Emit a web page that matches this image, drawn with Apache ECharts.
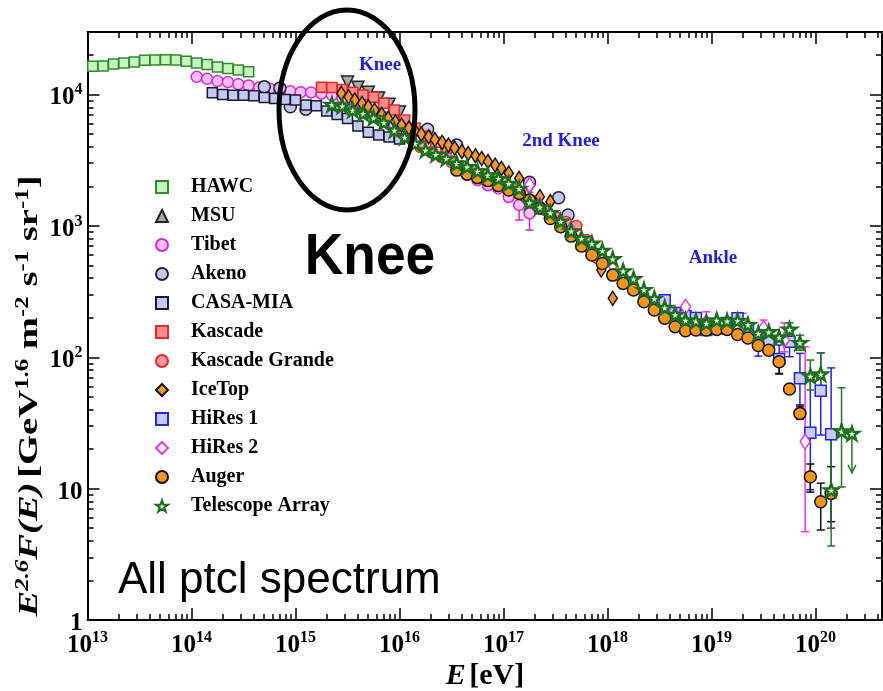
<!DOCTYPE html>
<html>
<head>
<meta charset="utf-8">
<script src="https://cdn.jsdelivr.net/npm/echarts@6/dist/echarts.min.js"></script>
<style>
  html, body { margin: 0; padding: 0; background: #ffffff; }
  #chart { width: 883px; height: 691px; }
</style>
</head>
<body>
<div id="chart"></div>
<script>
// Energies are log10(E / eV); fluxes are E^2.6 F(E) in GeV^1.6 m^-2 s^-1 sr^-1.
const hawcLgE = [13.05, 13.15, 13.25, 13.35, 13.45, 13.55, 13.65, 13.75, 13.85, 13.95, 14.05, 14.15, 14.25, 14.35, 14.45, 14.55];
const hawcFlux = [16400, 16500, 17100, 17400, 17700, 18200, 18300, 18400, 18300, 17900, 17400, 16900, 16200, 15800, 15400, 14900];

const msuLgE = [15.5, 15.6, 15.7, 15.8, 15.9, 16.0];
const msuFlux = [12430, 11380, 10430, 9390, 8450, 7350];

const tibetLgE = [14.05, 14.15, 14.25, 14.35, 14.45, 14.55, 14.65, 14.75, 14.85, 14.95, 15.05, 15.15, 15.25, 15.35, 15.45, 15.55, 15.65,
  15.75, 15.85, 15.95, 16.05, 16.15, 16.25, 16.35, 16.45, 16.55, 16.65, 16.75, 16.85, 16.95, 17.05, 17.15, 17.25];
const tibetFlux = [13630, 13170, 12650, 12430, 12000, 11730, 11290, 11090, 10900, 10610, 10430, 10380, 10160, 9900, 9390, 8760, 8160,
  7480, 6730, 5950, 5270, 4660, 4120, 3710, 3340, 2850, 2440, 2230, 2040, 1930, 1660, 1440, 1245];
const tibetErr = [[17.15, 1107, 1870], [17.25, 929, 1660]];

const akenoLgE = [14.7, 14.85, 14.95, 15.1, 16.27, 16.55, 17.25, 17.53, 17.62];
const akenoFlux = [11440, 11190, 8060, 7740, 5450, 4120, 2150, 1640, 1210];

const casaLgE = [14.2, 14.3, 14.4, 14.5, 14.6, 14.7, 14.8, 14.9, 15.0, 15.1, 15.2, 15.3, 15.4, 15.5, 15.6, 15.7, 15.8, 15.9, 16.0];
const casaFlux = [10300, 10000, 9890, 9890, 9780, 9500, 9340, 9150, 9070, 8310, 8210, 7480, 7060, 6580, 5750, 5170, 4910, 4740, 4580];

const kascadeLgE = [15.25, 15.35, 15.45, 15.55, 15.65, 15.75, 15.85, 15.95, 16.05, 16.15, 16.25, 16.35, 16.45];
const kascadeFlux = [11380, 11320, 10940, 10430, 9900, 9550, 8600, 7610, 6390, 5550, 4830, 4340, 3910];

const grandeLgE = [16.2, 16.3, 16.4, 16.5, 16.6, 16.7, 16.8, 16.9, 17.0, 17.1, 17.2, 17.3, 17.4, 17.5, 17.6, 17.7, 17.8, 17.9];
const grandeFlux = [3980, 3640, 3340, 3060, 2850, 2660, 2480, 2310, 2120, 1910, 1750, 1520, 1320, 1170, 1070, 1000, 780, 570];

const icetopLgE = [15.44, 15.51, 15.57, 15.64, 15.70, 15.76, 15.83, 15.89, 15.96, 16.02, 16.09, 16.15, 16.21, 16.28, 16.34, 16.41,
  16.47, 16.53, 16.60, 16.66, 16.73, 16.79, 16.85, 16.92, 16.98, 17.05, 17.15, 17.25, 17.35, 17.45, 17.54, 17.64, 17.74, 17.83, 17.94, 18.05];
const icetopFlux = [10200, 9610, 9070, 8560, 8060, 7610, 7060, 6580, 6200, 5850, 5550, 5270, 4990, 4770, 4540, 4320,
  4120, 3910, 3690, 3550, 3420, 3260, 3090, 2900, 2740, 2520, 2300, 2010, 1670, 1530, 1070, 920, 780, 650, 461, 281];

const hires1LgE = [18.55, 18.65, 18.75, 18.85, 18.95, 19.05, 19.15, 19.25, 19.35, 19.45, 19.55, 19.65, 19.75, 19.85, 19.95, 20.05, 20.15];
const hires1Flux = [272, 217, 206, 199, 161, 173, 182, 198, 161, 140, 131, 96.9, 131, 69.1, 26.6, 55.6, 25.9];
const hires1Err = [[19.45, 102, 128], [19.65, 75.4, 124], [19.75, 101, 164], [19.85, 42, 107], [19.95, 9.8, 72], [20.05, 25.6, 108], [20.15, 5.0, 83]];

const hires2LgE = [17.25, 17.35, 17.45, 17.55, 17.65, 17.75, 17.85, 17.95, 18.05, 18.15, 18.25, 18.35, 18.45, 18.55, 18.65, 18.75,
  18.95, 19.1, 19.3, 19.5, 19.7, 19.9];
const hires2Flux = [2040, 1440, 1230, 1070, 930, 780, 654, 569, 503, 415, 354, 303, 263, 229, 210, 242,
  185, 173, 176, 167, 135, 22.8];
const hires2Err = [[17.25, 1800, 2300], [18.95, 156, 222], [19.1, 150, 198], [19.3, 142, 216], [19.5, 142, 192], [19.7, 110, 183], [19.9, 4.7, 120]];

const augerLgE = [16.55, 16.65, 16.75, 16.85, 16.95, 17.05, 17.15, 17.25, 17.35, 17.45, 17.55, 17.65, 17.75, 17.85, 17.95, 18.05,
  18.15, 18.25, 18.35, 18.45, 18.55, 18.65, 18.75, 18.85, 18.95, 19.05, 19.15, 19.25, 19.35, 19.45, 19.55, 19.65, 19.75, 19.85,
  19.95, 20.05, 20.15];
const augerFlux = [2659, 2480, 2331, 2212, 2026, 1873, 1768, 1572, 1366, 1140, 984, 836, 702, 600, 518, 422,
  365, 325, 265, 229, 198, 171, 159, 161, 161, 163, 163, 149, 140, 123, 113, 92.4, 57.3, 37.4,
  12.3, 7.95, 9.2];
const augerErr = [[19.65, 74.5, 101], [19.85, 33.7, 43.3], [19.95, 9.4, 15.4], [20.05, 4.84, 11.0], [20.15, 5.6, 14.7]];

const taLgE = [15.35, 15.45, 15.55, 15.65, 15.75, 15.85, 15.95, 16.05, 16.15, 16.25, 16.35, 16.45, 16.55, 16.65, 16.75, 16.85,
  16.95, 17.05, 17.15, 17.25, 17.35, 17.45, 17.55, 17.65, 17.75, 17.85, 17.95, 18.05, 18.15, 18.25, 18.35, 18.45, 18.55, 18.65,
  18.75, 18.85, 18.95, 19.05, 19.15, 19.25, 19.35, 19.45, 19.55, 19.65, 19.75, 19.85, 19.95, 20.05, 20.15, 20.25, 20.35];
const taFlux = [8410, 8200, 7610, 7180, 6650, 6135, 5360, 4740, 4246, 3775, 3500, 3263, 2991, 2817, 2612, 2436,
  2299, 2106, 1929, 1504, 1390, 1260, 1084, 916, 803, 736, 649, 561, 454, 396, 327, 280, 239, 211,
  192, 189, 182, 192, 189, 190, 177, 152, 156, 142, 163, 129, 71.9, 74.5, 9.76, 27.4, 26.3];
const taErr = [[19.75, 143, 183], [19.85, 113, 147], [19.95, 56.3, 95.2], [20.05, 53.1, 108], [20.15, 3.66, 27.1], [20.25, 10.3, 58.6]];
const taUpperLimit = [[20.35, 26.3, 13.2]];

// Axis ranges (log10 units) and tick positions
const xMin = 13, xMax = 20.639;
const yMin = 0, yMax = 4.476;
const xMajor = [13, 14, 15, 16, 17, 18, 19, 20];
const yMajor = [0, 1, 2, 3, 4];

function minorTicks(lo, hi) {
  const out = [];
  for (let n = Math.floor(lo); n <= Math.ceil(hi); n++) {
    for (let k = 2; k <= 9; k++) {
      const v = n + Math.log10(k);
      if (v > lo && v < hi) out.push(v);
    }
  }
  return out;
}
const xMinor = minorTicks(xMin, xMax);
const yMinor = minorTicks(yMin, yMax);

const SERIF = '"Liberation Serif", "Times New Roman", serif';
const SANS = '"Liberation Sans", Arial, sans-serif';
const labelRich = {
  m: { fontFamily: SERIF, fontWeight: 'bold', fontSize: 25, lineHeight: 32, color: '#000' },
  s: { fontFamily: SERIF, fontWeight: 'bold', fontSize: 16, lineHeight: 16, verticalAlign: 'top', color: '#000' }
};

const STAR = 'path://M0,-100L22.45,-30.9L95.1,-30.9L36.3,11.8L58.8,80.9L0,38.2L-58.8,80.9L-36.3,11.8L-95.1,-30.9L-22.45,-30.9Z';

function pairs(lgE, flux) {
  return lgE.map((e, i) => [e, Math.log10(flux[i])]);
}

function axisPair(kind, position, major, minor, lo, hi, withLabels) {
  const common = { type: 'value', min: lo, max: hi, position: position, splitLine: { show: false } };
  const majorAxis = Object.assign({}, common, {
    axisLine: { show: true, onZero: false, lineStyle: { color: '#000', width: 2 } },
    axisTick: { show: true, inside: true, length: 12, customValues: major, lineStyle: { color: '#000', width: 1.5 } },
    axisLabel: withLabels ? {
      show: true, customValues: major, margin: kind === 'x' ? 10 : 5,
      padding: kind === 'y' ? [7, 0, 0, 0] : 0,
      formatter: function (v) {
        if (kind === 'y' && v === 0) return '{m|1}';
        if (kind === 'y' && v === 1) return '{m|10}';
        return '{m|10}{s|' + v + '}';
      },
      rich: labelRich
    } : { show: false }
  });
  const minorAxis = Object.assign({}, common, {
    axisLine: { show: false, onZero: false },
    axisTick: { show: true, inside: true, length: 6, customValues: minor, lineStyle: { color: '#000', width: 1.5 } },
    axisLabel: { show: false }
  });
  return [majorAxis, minorAxis];
}

function errorBarSeries(rows, color) {
  return {
    type: 'custom',
    name: 'err-' + color,
    xAxisIndex: 0, yAxisIndex: 0,
    silent: true,
    data: rows.map(r => [r[0], Math.log10(r[1]), Math.log10(r[2])]),
    encode: { x: 0, y: [1, 2] },
    renderItem: function (params, api) {
      const a = api.coord([api.value(0), api.value(1)]);
      const b = api.coord([api.value(0), api.value(2)]);
      const w = 4;
      const st = { stroke: color, lineWidth: 1.5 };
      return {
        type: 'group',
        children: [
          { type: 'line', shape: { x1: a[0], y1: a[1], x2: b[0], y2: b[1] }, style: st },
          { type: 'line', shape: { x1: a[0] - w, y1: a[1], x2: a[0] + w, y2: a[1] }, style: st },
          { type: 'line', shape: { x1: b[0] - w, y1: b[1], x2: b[0] + w, y2: b[1] }, style: st }
        ]
      };
    }
  };
}

function upperLimitSeries(rows, color) {
  return {
    type: 'custom',
    name: 'limit-' + color,
    xAxisIndex: 0, yAxisIndex: 0,
    silent: true,
    data: rows.map(r => [r[0], Math.log10(r[1]), Math.log10(r[2])]),
    encode: { x: 0, y: [1, 2] },
    renderItem: function (params, api) {
      const a = api.coord([api.value(0), api.value(1)]);
      const b = api.coord([api.value(0), api.value(2)]);
      const st = { stroke: color, lineWidth: 1.5, fill: 'none' };
      return {
        type: 'group',
        children: [
          { type: 'line', shape: { x1: a[0], y1: a[1], x2: b[0], y2: b[1] }, style: st },
          { type: 'polyline', shape: { points: [[b[0] - 4, b[1] - 8], [b[0], b[1]], [b[0] + 4, b[1] - 8]] }, style: st }
        ]
      };
    }
  };
}

function scatter(name, lgE, flux, symbol, size, fill, border, extra) {
  return Object.assign({
    type: 'scatter',
    name: name,
    xAxisIndex: 0, yAxisIndex: 0,
    symbol: symbol,
    symbolSize: size,
    symbolKeepAspect: true,
    itemStyle: { color: fill, borderColor: border, borderWidth: 1.5, opacity: 1 },
    emphasis: { disabled: true },
    data: pairs(lgE, flux)
  }, extra || {});
}

const legendNames = ['HAWC', 'MSU', 'Tibet', 'Akeno', 'CASA-MIA', 'Kascade', 'Kascade Grande', 'IceTop', 'HiRes 1', 'HiRes 2', 'Auger', 'Telescope Array'];

const xAxes = axisPair('x', 'bottom', xMajor, xMinor, xMin, xMax, true).concat(axisPair('x', 'top', xMajor, xMinor, xMin, xMax, false));
const yAxes = axisPair('y', 'left', yMajor, yMinor, yMin, yMax, true).concat(axisPair('y', 'right', yMajor, yMinor, yMin, yMax, false));

const option = {
  animation: false,
  backgroundColor: '#ffffff',
  grid: { left: 87.5, right: 1, top: 32, bottom: 71, containLabel: false },
  xAxis: xAxes,
  yAxis: yAxes,
  legend: {
    orient: 'vertical',
    left: 150,
    top: 172,
    itemWidth: 12,
    itemHeight: 12,
    itemGap: 9,
    selectedMode: false,
    data: legendNames,
    textStyle: { fontFamily: SERIF, fontWeight: 'bold', fontSize: 20, lineHeight: 20, color: '#000', padding: [0, 0, 0, 18] }
  },
  series: [
    errorBarSeries(tibetErr, '#dd22dd'),
    errorBarSeries(hires1Err, '#2222ee'),
    errorBarSeries(hires2Err, '#ee33ee'),
    errorBarSeries(augerErr, '#111111'),
    errorBarSeries(taErr, '#1e7b1e'),
    upperLimitSeries(taUpperLimit, '#1e7b1e'),
    scatter('HAWC', hawcLgE, hawcFlux, 'rect', 10, '#c6f5c0', '#2e8b2e'),
    scatter('MSU', msuLgE, msuFlux, 'triangle', 12, '#a8a8a8', '#222222', { symbolRotate: 180 }),
    scatter('Tibet', tibetLgE, tibetFlux, 'circle', 11, '#ffc0ff', '#dd22dd'),
    scatter('Akeno', akenoLgE, akenoFlux, 'circle', 12, '#c4c8f0', '#222233'),
    scatter('CASA-MIA', casaLgE, casaFlux, 'rect', 10, '#c4c8f4', '#1a1a2e'),
    scatter('Kascade', kascadeLgE, kascadeFlux, 'rect', 10, '#ff8c8c', '#e8282d'),
    scatter('Kascade Grande', grandeLgE, grandeFlux, 'circle', 11, '#ff9a9a', '#e8282d'),
    scatter('IceTop', icetopLgE, icetopFlux, 'diamond', [9, 14], '#f7962a', '#111111', { symbolKeepAspect: false }),
    scatter('HiRes 1', hires1LgE, hires1Flux, 'rect', 11, '#c8ccf8', '#2222ee'),
    scatter('HiRes 2', hires2LgE, hires2Flux, 'diamond', [10, 15], '#ffffff', '#ee33ee', { symbolKeepAspect: false }),
    scatter('Auger', augerLgE, augerFlux, 'circle', 12, '#f7941d', '#111111'),
    scatter('Telescope Array', taLgE, taFlux, STAR, 14, '#e4f7dc', '#1c701c', { itemStyle: { color: '#e4f7dc', borderColor: '#1c701c', borderWidth: 2.4, opacity: 1 } })
  ],
  graphic: [
    { type: 'ellipse', z: 100, shape: { cx: 347, cy: 110, rx: 68, ry: 100 }, style: { fill: 'none', stroke: '#000', lineWidth: 5 } },
    { type: 'text', z: 100, x: 380, y: 65, style: { text: 'Knee', font: 'bold 19px ' + SERIF, fill: '#2020e0', align: 'center', verticalAlign: 'middle' } },
    { type: 'text', z: 100, x: 561, y: 141, style: { text: '2nd Knee', font: 'bold 19px ' + SERIF, fill: '#2020e0', align: 'center', verticalAlign: 'middle' } },
    { type: 'text', z: 100, x: 713, y: 258, style: { text: 'Ankle', font: 'bold 19px ' + SERIF, fill: '#2020e0', align: 'center', verticalAlign: 'middle' } },
    { type: 'text', z: 100, x: 370, y: 258, scaleX: 0.92, style: { text: 'Knee', font: 'bold 58px ' + SANS, fill: '#000', align: 'center', verticalAlign: 'middle' } },
    { type: 'text', z: 100, x: 118, y: 581, style: { text: 'All ptcl spectrum', font: '44px ' + SANS, fill: '#000', align: 'left', verticalAlign: 'middle' } },
    {
      type: 'text', z: 100, x: 485, y: 676,
      style: {
        text: '{i|E} {b|[eV]}', align: 'center', verticalAlign: 'middle',
        rich: {
          i: { fontFamily: SERIF, fontStyle: 'italic', fontWeight: 'bold', fontSize: 30, fill: '#000' },
          b: { fontFamily: SERIF, fontWeight: 'bold', fontSize: 30, fill: '#000' }
        }
      }
    },
    {
      type: 'text', z: 100, x: 30, y: 396, rotation: Math.PI / 2, scaleX: 1.38,
      style: {
        text: '{i|E}{si|2.6}{i|F(E)} {b|[GeV}{s|1.6}{b| m}{s|-2}{b| s}{s|-1}{b| sr}{s|-1}{b|]}',
        align: 'center', verticalAlign: 'middle',
        rich: {
          i: { fontFamily: SERIF, fontStyle: 'italic', fontWeight: 'bold', fontSize: 28, lineHeight: 32, fill: '#000' },
          b: { fontFamily: SERIF, fontWeight: 'bold', fontSize: 28, lineHeight: 32, fill: '#000' },
          si: { fontFamily: SERIF, fontStyle: 'italic', fontWeight: 'bold', fontSize: 18, lineHeight: 18, verticalAlign: 'top', fill: '#000' },
          s: { fontFamily: SERIF, fontWeight: 'bold', fontSize: 18, lineHeight: 18, verticalAlign: 'top', fill: '#000' }
        }
      }
    }
  ]
};

const chart = echarts.init(document.getElementById('chart'), null, { renderer: 'canvas' });
chart.setOption(option);
</script>
</body>
</html>
